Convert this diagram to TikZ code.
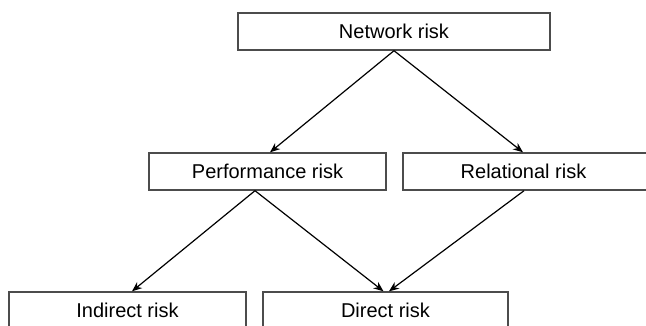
\documentclass[tikz,border=0pt]{standalone}
\usepackage{fontspec}
\setmainfont{Liberation Sans}
\usetikzlibrary{arrows.meta}
\tikzset{
  riskbox/.style={draw=black!70, line width=1.4pt, fill=white, minimum height=37pt,
    inner sep=0pt, font=\fontsize{20pt}{24pt}\selectfont},
  link/.style={line width=1.2pt, -{Stealth[length=10pt,width=8pt]}}
}
\begin{document}
\begin{tikzpicture}[x=1pt, y=-1pt]
  \useasboundingbox (0,0) rectangle (646,325);
  \clip (0,0) rectangle (646,325);

  % top level
  \node[riskbox, minimum width=312pt] (net) at (394, 31.5) {Network risk};

  % middle level
  \node[riskbox, minimum width=237pt] (perf) at (267.5, 171.5) {Performance risk};
  \node[riskbox, minimum width=249pt] (rel) at (527.5, 171.5) {\hspace*{-8pt}Relational risk};

  % bottom level
  \node[riskbox, minimum width=237pt] (ind) at (127.5, 310.5) {Indirect risk};
  \node[riskbox, minimum width=245pt] (dir) at (385.5, 310.5) {Direct risk};

  \draw[link] (net.south) -- ([xshift=2.5pt]perf.north);
  \draw[link] (net.south) -- ([xshift=-4.5pt]rel.north);
  \draw[link] ([xshift=-12.5pt]perf.south) -- ([xshift=4.5pt]ind.north);
  \draw[link] ([xshift=-12.5pt]perf.south) -- ([xshift=-2pt]dir.north);
  \draw[link] ([xshift=-3.5pt]rel.south) -- ([xshift=3.5pt]dir.north);
\end{tikzpicture}
\end{document}
